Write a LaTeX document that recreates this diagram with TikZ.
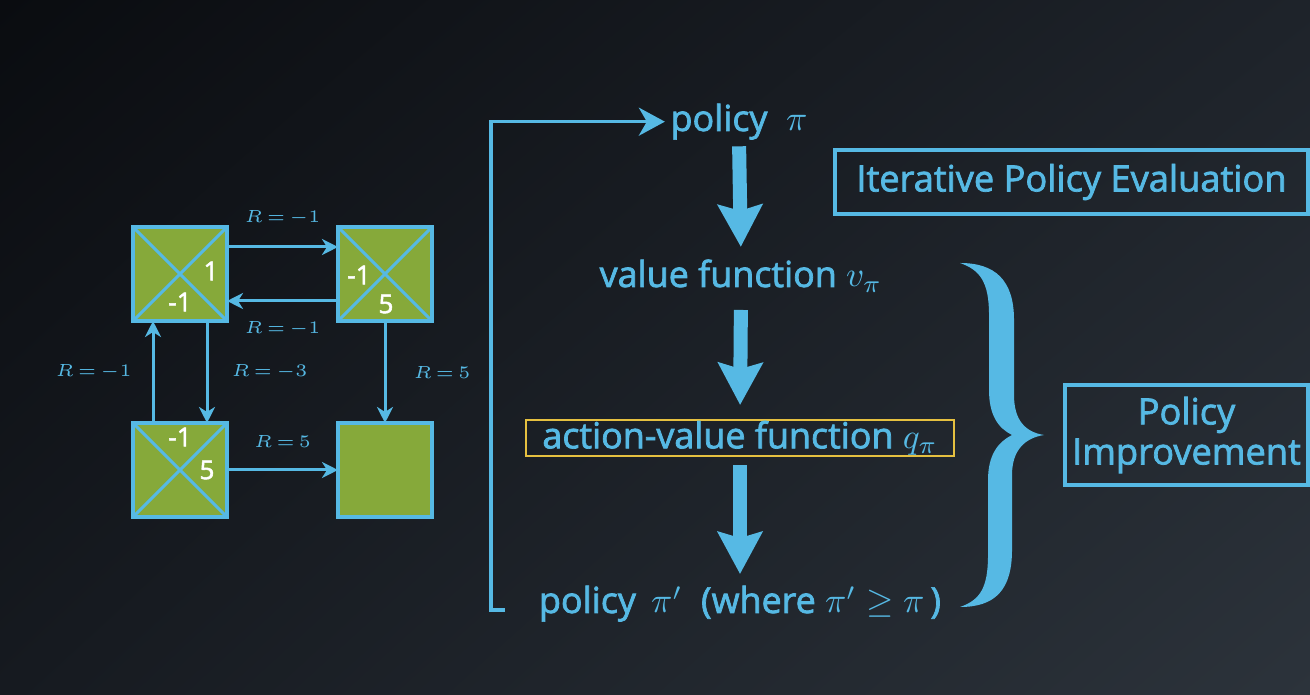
\documentclass[tikz,border=0pt]{standalone}
\usepackage{fontspec}
\setmainfont{Open Sans}
\newfontfamily\semi{Open Sans}[RawFeature={embolden=2}]
\usetikzlibrary{arrows.meta,shadings}

\definecolor{skyblue}{RGB}{86,185,228}
\definecolor{leafgreen}{RGB}{134,169,58}
\definecolor{goldline}{RGB}{229,192,64}
\definecolor{bgtl}{RGB}{10,12,16}
\definecolor{bgtr}{RGB}{30,35,42}
\definecolor{bgbl}{RGB}{22,26,32}
\definecolor{bgbr}{RGB}{44,51,59}

\tikzset{
    cell/.style={draw=skyblue, line width=0.04cm, fill=leafgreen, minimum size=0.94cm, inner sep=0pt, outer sep=0pt},
    cross/.style={draw=skyblue, line width=0.03cm},
    num/.style={text=white, font=\semi\fontsize{7.4pt}{8pt}\selectfont, inner sep=0pt},
    move/.style={draw=skyblue, line width=0.03cm, -{Stealth[length=0.16cm,width=0.16cm,inset=0.05cm]}},
    rwd/.style={text=skyblue, font=\fontsize{4.9pt}{6pt}\selectfont, inner sep=0pt},
    stage/.style={text=skyblue, font=\semi\fontsize{10.2pt}{12pt}\selectfont, inner sep=0pt, anchor=base},
    bigarrow/.style={draw=skyblue, line width=0.14cm, -{Stealth[length=0.42cm,width=0.44cm,inset=0.06cm]}},
    loopline/.style={draw=skyblue, line width=0.035cm, -{Stealth[length=0.26cm,width=0.28cm,inset=0.08cm]}},
    tag/.style={draw=skyblue, line width=0.04cm, text=skyblue, font=\semi\fontsize{10.3pt}{11.4pt}\selectfont, align=center, inner sep=0pt},
}

\begin{document}
\begin{tikzpicture}[x=0.01cm, y=-0.01cm]
        % Background
        \shade[upper left=bgtl, upper right=bgtr, lower left=bgbl, lower right=bgbr] (0,0) rectangle (1310,695);
        \useasboundingbox (0,0) rectangle (1310,695);
        % Grid world
        \node[cell] (s1) at (180,274) {};
        \node[cell] (s2) at (385,274) {};
        \node[cell] (s3) at (180,470) {};
        \node[cell] (s4) at (385,470) {};
        \draw[cross] (s1.north west) -- (s1.south east);
        \draw[cross] (s1.north east) -- (s1.south west);
        \draw[cross] (s2.north west) -- (s2.south east);
        \draw[cross] (s2.north east) -- (s2.south west);
        \draw[cross] (s3.north west) -- (s3.south east);
        \draw[cross] (s3.north east) -- (s3.south west);
        % Action values
        \node[num] at ([shift={(31,-3)}]s1.center) {1};
        \node[num] at ([shift={(0,28)}]s1.center) {-1};
        \node[num] at ([shift={(-26,1)}]s2.center) {-1};
        \node[num] at ([shift={(1,30)}]s2.center) {5};
        \node[num] at ([shift={(0,-33)}]s3.center) {-1};
        \node[num] at ([shift={(27,0)}]s3.center) {5};
        % Moves
        \draw[move] ([shift={(0,-27)}]s1.east) -- node[rwd, above=0.2cm] {$R\,{=}\,{-1}$} ([shift={(0,-27)}]s2.west);
        \draw[move] ([shift={(0,27)}]s2.west) -- node[rwd, below=0.19cm] {$R\,{=}\,{-1}$} ([shift={(0,27)}]s1.east);
        \draw[move] ([shift={(27,0)}]s1.south) -- node[rwd, right=0.23cm] {$R\,{=}\,{-3}$} ([shift={(27,0)}]s3.north);
        \draw[move] ([shift={(-27,0)}]s3.north) -- node[rwd, left=0.2cm] {$R\,{=}\,{-1}$} ([shift={(-27,0)}]s1.south);
        \draw[move] (s2.south) -- node[rwd, right=0.27cm] {$R\,{=}\,5$} (s4.north);
        \draw[move] (s3.east) -- node[rwd, above=0.21cm] {$R\,{=}\,5$} (s4.west);
        % Policy iteration
        \node[stage] (pol1) at (739,131) {policy \ $\pi$};
        \node[stage] (val) at (741,287) {value function $v_\pi$};
        \node[stage, anchor=center, draw=goldline, line width=0.02cm, minimum width=4.28cm, minimum height=0.36cm] (act) at (740,438) {action-value function $q_\pi$};
        \node[stage] (pol2) at (740,613) {policy \,$\pi'$ \ (where\ $\pi' \geq \pi$\,)};
        \draw[bigarrow, shorten <=0.06cm, shorten >=0.12cm] (pol1.south) -- (val.north);
        \draw[bigarrow, shorten <=0.17cm, shorten >=0.14cm] (val.south) -- (act.north);
        \draw[bigarrow, shorten <=0.08cm, shorten >=0.11cm] (act.south) -- (pol2.north);
        \coordinate (fb) at (505,610);
        \draw[loopline, shorten >=0.05cm] (fb) -- ++(-14,0) |- (pol1.west);
        % Labels
        \node[tag, minimum width=4.73cm, minimum height=0.64cm] (ipe) at (1071.5,182) {Iterative Policy Evaluation};
        \node[tag, minimum width=2.43cm, minimum height=1.00cm] (imp) at (1186.5,435) {Policy\\Improvement};
        % Brace
        \fill[skyblue] (960,263) .. controls (995,263) and (1014,280) .. (1014,320)
            -- (1014,395) .. controls (1014,420) and (1025,432) .. (1044,435)
            .. controls (1025,438) and (1012,450) .. (1012,475)
            -- (1012,550) .. controls (1012,590) and (995,607) .. (960,607)
            .. controls (980,600) and (988,588) .. (988,555)
            -- (988,480) .. controls (988,455) and (998,442) .. (1012,435)
            .. controls (998,428) and (989,415) .. (989,390)
            -- (989,315) .. controls (989,282) and (980,270) .. (960,263) -- cycle;
    \end{tikzpicture}
\end{document}
